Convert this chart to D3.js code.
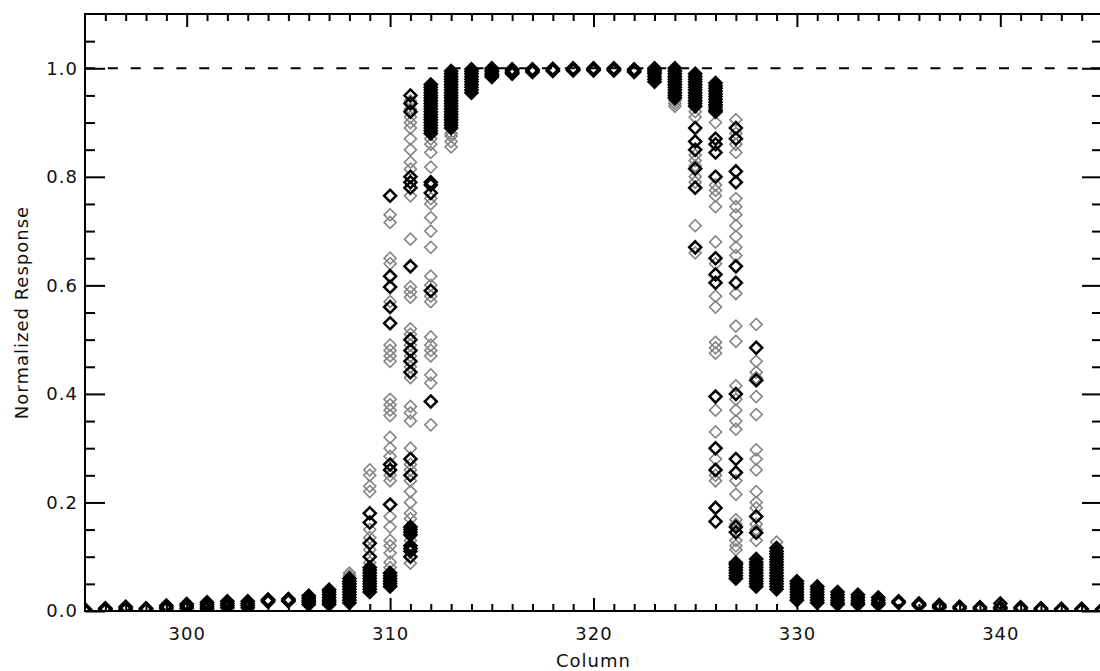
<!DOCTYPE html>
<html>
<head>
<meta charset="utf-8">
<script src="https://cdn.jsdelivr.net/npm/d3@7"></script>
<style>
  body { margin: 0; background: #fff; }
  text { font-family: "DejaVu Sans", sans-serif; fill: #111; }
</style>
</head>
<body>
<svg id="chart" width="1100" height="671"></svg>
<script>
// Data: detector column and normalized response of each row

const columns = [295, 296, 297, 298, 299, 300, 301, 302, 303, 304, 305, 306, 307, 308, 309, 310,
  311, 312, 313, 314, 315, 316, 317, 318, 319, 320, 321, 322, 323, 324, 325, 326, 327, 328, 329,
  330, 331, 332, 333, 334, 335, 336, 337, 338, 339, 340, 341, 342, 343, 344, 345];

// black symbols, one list per column (same order as columns)
const blackResp = [
  [0.0, 0.002, 0.003], [0.002, 0.004, 0.005], [0.003, 0.006, 0.008], [0.002, 0.004, 0.005],
  [0.004, 0.007, 0.010], [0.005, 0.009, 0.013], [0.004, 0.008, 0.012, 0.016],
  [0.006, 0.010, 0.014, 0.018], [0.006, 0.010, 0.014, 0.018], [0.017, 0.019, 0.021], [0.018, 0.020, 0.022],
  [0.012, 0.016, 0.020, 0.024, 0.028],
  [0.012, 0.016, 0.020, 0.025, 0.030, 0.035, 0.039],
  [0.015, 0.02, 0.025, 0.03, 0.035, 0.04, 0.045, 0.05, 0.055, 0.06],
  [0.18, 0.163, 0.125, 0.10, 0.08, 0.075, 0.07, 0.065, 0.06, 0.055, 0.05, 0.045, 0.04, 0.035],
  [0.765, 0.617, 0.597, 0.56, 0.53, 0.27, 0.26, 0.196, 0.07, 0.065, 0.06, 0.055, 0.05, 0.045],
  [0.95, 0.935, 0.92, 0.80, 0.79, 0.78, 0.635, 0.50, 0.48, 0.46, 0.44, 0.28, 0.25,
   0.155, 0.15, 0.145, 0.14, 0.12, 0.115, 0.11, 0.10],
  [0.97, 0.965, 0.96, 0.955, 0.95, 0.945, 0.94, 0.935, 0.93, 0.925, 0.92, 0.915, 0.91, 0.905, 0.90,
   0.895, 0.89, 0.885, 0.88, 0.79, 0.785, 0.77, 0.59, 0.386],
  [0.995, 0.99, 0.985, 0.98, 0.975, 0.97, 0.965, 0.96, 0.955, 0.95, 0.945, 0.94, 0.935, 0.93, 0.925,
   0.92, 0.915, 0.91, 0.905, 0.90, 0.895, 0.89],
  [0.998, 0.994, 0.99, 0.985, 0.98, 0.975, 0.97, 0.965, 0.96, 0.955],
  [1.0, 0.997, 0.994, 0.99, 0.987, 0.984], [0.998, 0.995, 0.992, 0.99], [0.998, 0.996, 0.993],
  [0.999, 0.997, 0.995], [1.0, 0.998, 0.996], [1.0, 0.998, 0.996], [1.0, 0.998, 0.996],
  [0.998, 0.995, 0.993], [1.0, 0.997, 0.993, 0.99, 0.985, 0.98, 0.975],
  [1.0, 0.995, 0.99, 0.985, 0.98, 0.975, 0.97, 0.965, 0.96, 0.955, 0.95, 0.945],
  [0.99, 0.985, 0.98, 0.975, 0.97, 0.965, 0.96, 0.955, 0.95, 0.945, 0.94, 0.935, 0.93, 0.89, 0.865,
   0.85, 0.815, 0.78, 0.67],
  [0.973, 0.968, 0.963, 0.958, 0.953, 0.948, 0.943, 0.938, 0.933, 0.928, 0.923, 0.92, 0.87, 0.86,
   0.845, 0.80, 0.65, 0.62, 0.605, 0.395, 0.30, 0.26, 0.19, 0.165],
  [0.89, 0.87, 0.81, 0.79, 0.635, 0.605, 0.40, 0.28, 0.255, 0.155, 0.145, 0.089, 0.085, 0.08, 0.075,
   0.07, 0.065, 0.06],
  [0.485, 0.425, 0.174, 0.144, 0.096, 0.09, 0.085, 0.08, 0.075, 0.07, 0.065, 0.06, 0.055, 0.05, 0.045],
  [0.116, 0.11, 0.105, 0.1, 0.095, 0.09, 0.085, 0.08, 0.075, 0.07, 0.065, 0.06, 0.055, 0.05, 0.045, 0.04],
  [0.055, 0.05, 0.045, 0.04, 0.035, 0.03, 0.025, 0.02],
  [0.045, 0.04, 0.035, 0.03, 0.025, 0.02, 0.015],
  [0.035, 0.03, 0.025, 0.02, 0.015, 0.012],
  [0.03, 0.025, 0.02, 0.015, 0.012], [0.025, 0.02, 0.015, 0.012], [0.018, 0.015],
  [0.014, 0.012, 0.01], [0.011, 0.008, 0.006], [0.008, 0.005], [0.007, 0.004],
  [0.014, 0.007, 0.004], [0.007, 0.004], [0.005, 0.003], [0.004, 0.002], [0.004, 0.002],
  [0.003, 0.001]
];

// grey symbols, one list per column
const grayResp = [
  [0.001], [0.003], [0.005], [0.003], [0.006], [0.008], [0.010], [0.012], [0.012], [0.019],
  [0.020], [0.018], [0.022, 0.033], [0.065, 0.07, 0.048],
  [0.26, 0.25, 0.23, 0.22, 0.15, 0.135, 0.113, 0.089],
  [0.73, 0.716, 0.65, 0.64, 0.57, 0.49, 0.48, 0.47, 0.46, 0.39, 0.38, 0.37, 0.36, 0.32, 0.30, 0.285, 0.25, 0.24, 0.174, 0.155, 0.13, 0.12, 0.107, 0.09, 0.08],
  [0.94, 0.925, 0.91, 0.90, 0.89, 0.87, 0.85, 0.827, 0.814, 0.765, 0.685, 0.597, 0.588, 0.578, 0.52, 0.51, 0.49, 0.47, 0.45, 0.43, 0.377, 0.365, 0.35, 0.30, 0.27, 0.26, 0.24, 0.22, 0.20, 0.18, 0.17, 0.13, 0.088],
  [0.87, 0.86, 0.845, 0.818, 0.76, 0.75, 0.725, 0.70, 0.67, 0.617, 0.60, 0.58, 0.57, 0.505, 0.49, 0.48, 0.47, 0.435, 0.42, 0.343],
  [0.875, 0.865, 0.855, 0.88], [0.965], [], [], [], [], [], [], [], [], [],
  [0.935, 0.93, 0.94],
  [0.92, 0.91, 0.84, 0.83, 0.82, 0.80, 0.79, 0.71, 0.66],
  [0.90, 0.785, 0.775, 0.765, 0.745, 0.68, 0.64, 0.58, 0.56, 0.495, 0.485, 0.475, 0.37, 0.33, 0.28, 0.25, 0.24],
  [0.905, 0.88, 0.86, 0.845, 0.76, 0.745, 0.73, 0.71, 0.69, 0.67, 0.655, 0.585, 0.525, 0.497, 0.415, 0.39, 0.37, 0.35, 0.335, 0.24, 0.215, 0.168, 0.16, 0.13, 0.12, 0.113],
  [0.528, 0.46, 0.44, 0.43, 0.395, 0.362, 0.297, 0.28, 0.26, 0.22, 0.20, 0.19, 0.16, 0.15, 0.13],
  [0.127, 0.11], [0.042], [], [], [], [], [], [], [], [], [], [], [], [], [], [], []
];

const xTickLabels = [300, 310, 320, 330, 340];
const yTickLabels = [0.0, 0.2, 0.4, 0.6, 0.8, 1.0];
const refLevel = 1.0;

// Layout
const plotLeft = 85, plotRight = 1102, plotTop = 14, plotBottom = 611;

const svg = d3.select("#chart");

const x = d3.scaleLinear().domain([295, 345]).range([plotLeft, plotRight]);
const y = d3.scaleLinear().domain([0, 1.1]).range([plotBottom, plotTop]);

// flatten per column lists into points
const toPoints = (lists) => {
    const pts = [];
    lists.forEach(function(vals, i) {
        vals.forEach(function(v) { pts.push({ col: columns[i], val: v }); });
    });
    return pts;
};
const grayPts = toPoints(grayResp);
const blackPts = toPoints(blackResp);

svg.append("clipPath").attr("id", "plotclip")
    .append("rect")
    .attr("x", plotLeft).attr("y", plotTop)
    .attr("width", plotRight - plotLeft).attr("height", plotBottom - plotTop);

// dashed reference line at 1.0
svg.append("line")
    .attr("x1", plotLeft).attr("x2", plotRight)
    .attr("y1", y(refLevel)).attr("y2", y(refLevel))
    .attr("stroke", "#000").attr("stroke-width", 2)
    .attr("stroke-dasharray", "10,12.85");

// diamond symbols
const diamond = d3.symbol().type(d3.symbolSquare).size(72);
const marks = svg.append("g").attr("clip-path", "url(#plotclip)");

marks.selectAll("path.gray").data(grayPts).enter()
    .append("path").attr("class", "gray")
    .attr("d", diamond)
    .attr("transform", function(d) { return "translate(" + x(d.col) + "," + y(d.val) + ") rotate(45)"; })
    .attr("fill", "none").attr("stroke", "#858585").attr("stroke-width", 1.6);

marks.selectAll("path.black").data(blackPts).enter()
    .append("path").attr("class", "black")
    .attr("d", diamond)
    .attr("transform", function(d) { return "translate(" + x(d.col) + "," + y(d.val) + ") rotate(45)"; })
    .attr("fill", "none").attr("stroke", "#000").attr("stroke-width", 2.5);

// axes, ticks pointing inward on all four sides
const minorX = d3.range(296, 345).filter(function(v) { return v % 10 !== 0; });
const minorY = d3.range(0.05, 1.1, 0.05).filter(function(v) { return Math.abs(v * 5 - Math.round(v * 5)) > 1e-6; });

function styleAxis(g) {
    g.select(".domain").remove();
    g.selectAll(".tick line").attr("stroke", "#000").attr("stroke-width", 2);
    g.selectAll(".tick text").attr("font-size", "18px").attr("letter-spacing", "1px").attr("fill", "#111");
}

// bottom
svg.append("g").attr("transform", "translate(0," + plotBottom + ")")
    .call(d3.axisBottom(x).tickValues(minorX).tickSize(-7).tickSizeOuter(0).tickFormat(""))
    .call(styleAxis);
svg.append("g").attr("transform", "translate(0," + plotBottom + ")")
    .call(d3.axisBottom(x).tickValues(xTickLabels).tickSize(-13).tickSizeOuter(0).tickPadding(16).tickFormat(d3.format("d")))
    .call(styleAxis);

// top
svg.append("g").attr("transform", "translate(0," + plotTop + ")")
    .call(d3.axisBottom(x).tickValues(minorX).tickSize(7).tickSizeOuter(0).tickFormat(""))
    .call(styleAxis);
svg.append("g").attr("transform", "translate(0," + plotTop + ")")
    .call(d3.axisBottom(x).tickValues(xTickLabels).tickSize(13).tickSizeOuter(0).tickFormat(""))
    .call(styleAxis);

// left
svg.append("g").attr("transform", "translate(" + plotLeft + ",0)")
    .call(d3.axisLeft(y).tickValues(minorY).tickSize(-10).tickSizeOuter(0).tickFormat(""))
    .call(styleAxis);
svg.append("g").attr("transform", "translate(" + plotLeft + ",0)")
    .call(d3.axisLeft(y).tickValues(yTickLabels).tickSize(-20).tickSizeOuter(0).tickPadding(7).tickFormat(d3.format(".1f")))
    .call(styleAxis);

// right
svg.append("g").attr("transform", "translate(" + plotRight + ",0)")
    .call(d3.axisLeft(y).tickValues(minorY).tickSize(10).tickSizeOuter(0).tickFormat(""))
    .call(styleAxis);
svg.append("g").attr("transform", "translate(" + plotRight + ",0)")
    .call(d3.axisLeft(y).tickValues(yTickLabels).tickSize(20).tickSizeOuter(0).tickFormat(""))
    .call(styleAxis);

// frame
svg.append("rect")
    .attr("x", plotLeft).attr("y", plotTop)
    .attr("width", plotRight - plotLeft).attr("height", plotBottom - plotTop)
    .attr("fill", "none").attr("stroke", "#000").attr("stroke-width", 2);

// titles
svg.append("text")
    .attr("x", (plotLeft + plotRight) / 2).attr("y", 667)
    .attr("text-anchor", "middle").attr("font-size", "18px").attr("letter-spacing", "1px")
    .text("Column");

svg.append("text")
    .attr("transform", "translate(28," + ((plotTop + plotBottom) / 2) + ") rotate(-90)")
    .attr("text-anchor", "middle").attr("font-size", "18px").attr("letter-spacing", "1px")
    .text("Normalized Response");
</script>
</body>
</html>
